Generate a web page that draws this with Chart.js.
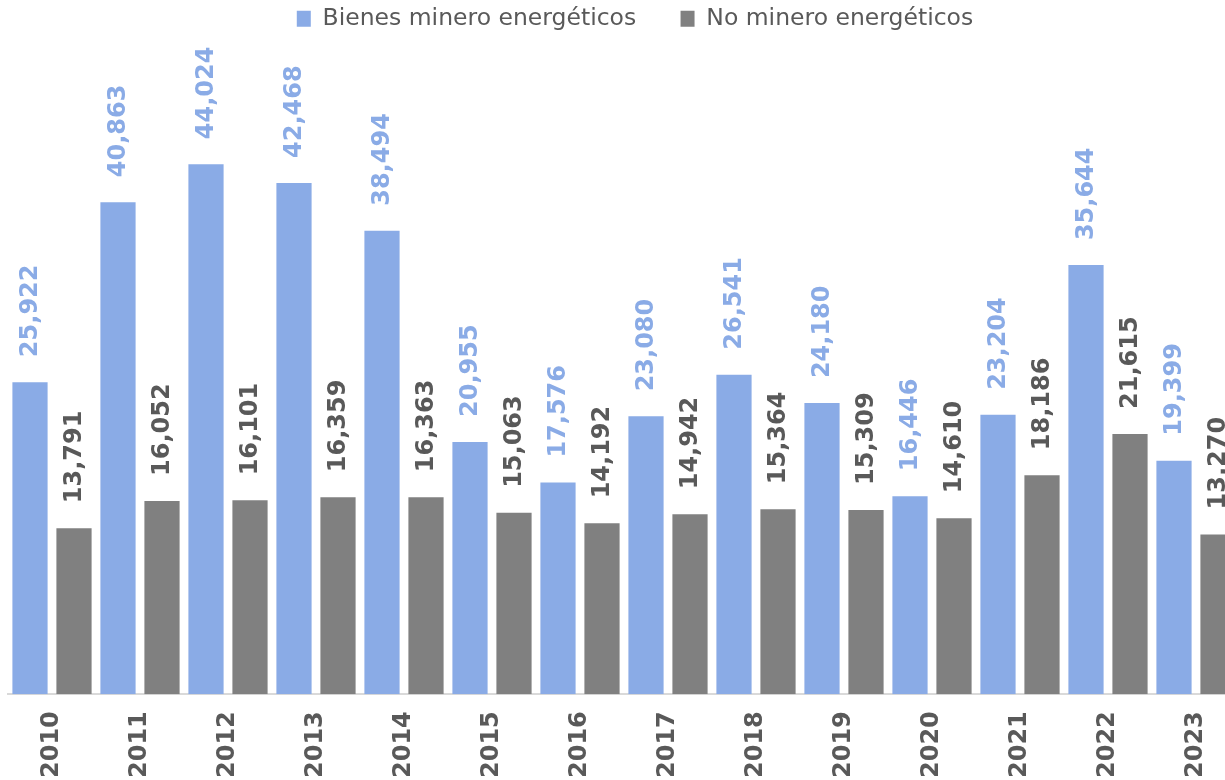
<!DOCTYPE html>
<html lang="es">
<head>
    <meta charset="UTF-8">
    <title>Bienes minero energéticos vs no minero energéticos</title>
    <script src="https://cdn.jsdelivr.net/npm/chart.js@4.4.0/dist/chart.umd.min.js"></script>
    <style>
        html, body { margin: 0; padding: 0; background: #fff; overflow: hidden; }
    </style>
</head>
<body>
    <canvas id="barChart" width="1270" height="780"></canvas>

    <script>
        const years = ['2010', '2011', '2012', '2013', '2014', '2015', '2016',
                       '2017', '2018', '2019', '2020', '2021', '2022', '2023'];
        const mineroEnergeticos = [25922, 40863, 44024, 42468, 38494, 20955, 17576,
                                   23080, 26541, 24180, 16446, 23204, 35644, 19399];
        const noMineroEnergeticos = [13791, 16052, 16101, 16359, 16363, 15063, 14192,
                                     14942, 15364, 15309, 14610, 18186, 21615, 13270];

        const BLUE = '#8AABE6';
        const GRAY = '#808080';
        const TEXT = '#595959';
        const FONT = "'DejaVu Sans', Verdana, sans-serif";

        // value labels, rotated, just above each bar
        const valueLabels = {
            id: 'valueLabels',
            afterDatasetsDraw(chart) {
                const ctx = chart.ctx;
                const colors = [BLUE, TEXT];
                chart.data.datasets.forEach((ds, i) => {
                    const meta = chart.getDatasetMeta(i);
                    meta.data.forEach((bar, j) => {
                        ctx.save();
                        ctx.translate(bar.x + 1, bar.y - 25);
                        ctx.rotate(-Math.PI / 2);
                        ctx.font = `bold 24px ${FONT}`;
                        ctx.fillStyle = colors[i];
                        ctx.textAlign = 'left';
                        ctx.textBaseline = 'middle';
                        ctx.fillText(ds.data[j].toLocaleString('en-US'), 0, 0);
                        ctx.restore();
                    });
                });
            }
        };

        const ctx = document.getElementById('barChart').getContext('2d');
        new Chart(ctx, {
            type: 'bar',
            data: {
                labels: years,
                datasets: [{
                    label: 'Bienes minero energéticos',
                    data: mineroEnergeticos,
                    backgroundColor: BLUE,
                    categoryPercentage: 1.0,
                    barPercentage: 0.8
                }, {
                    label: 'No minero energéticos',
                    data: noMineroEnergeticos,
                    backgroundColor: GRAY,
                    categoryPercentage: 1.0,
                    barPercentage: 0.8
                }]
            },
            options: {
                responsive: false,
                animation: false,
                layout: { padding: 0 },
                plugins: {
                    tooltip: { enabled: false },
                    legend: {
                        position: 'top',
                        labels: {
                            boxWidth: 14,
                            boxHeight: 16,
                            padding: 7,
                            color: TEXT,
                            font: { family: FONT, size: 23.5 },
                            generateLabels(chart) {
                                const items = Chart.defaults.plugins.legend.labels.generateLabels(chart);
                                // wider gap between the two entries
                                items[0].text += '\u00A0\u00A0\u00A0\u00A0\u00A0';
                                items.forEach(it => { it.lineWidth = 0; });
                                return items;
                            }
                        }
                    }
                },
                scales: {
                    x: {
                        grid: { display: false, tickLength: 15 },
                        border: { display: true, color: '#D9D9D9', width: 2 },
                        ticks: {
                            color: TEXT,
                            font: { family: FONT, size: 24, weight: 'bold' },
                            minRotation: 90,
                            maxRotation: 90,
                            autoSkip: false,
                            padding: 2
                        }
                    },
                    y: {
                        min: 0,
                        max: 54300,
                        grid: { display: false },
                        border: { display: false },
                        ticks: { display: false },
                        afterFit(scale) { scale.width = 8; }
                    },
                    y2: {
                        type: 'linear',
                        position: 'right',
                        grid: { display: false },
                        border: { display: false },
                        ticks: { display: false },
                        afterFit(scale) { scale.width = 30; }
                    }
                }
            },
            plugins: [valueLabels]
        });
    </script>
</body>
</html>
